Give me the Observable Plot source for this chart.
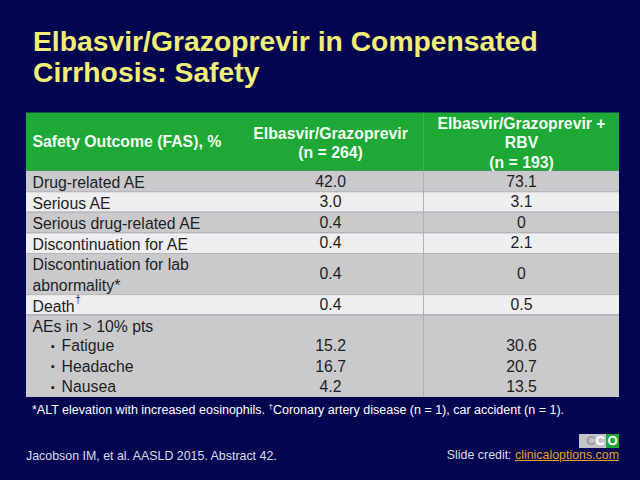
<!DOCTYPE html>
<html>
<head>
<meta charset="utf-8">
<script src="https://cdn.jsdelivr.net/npm/d3@7"></script>
<script src="https://cdn.jsdelivr.net/npm/@observablehq/plot@0.6"></script>
<style>
  html, body { margin: 0; padding: 0; }
  body { width: 640px; height: 480px; background: #020650; position: relative; overflow: hidden;
         font-family: "Liberation Sans", Arial, sans-serif; }
  #title { position: absolute; left: 33px; top: 26px; color: #f2ee78; font-weight: bold;
           font-size: 28.3px; line-height: 31px; }
  #chart { position: absolute; left: 0; top: 100px; }
  #note { position: absolute; left: 32px; top: 403px; color: #ffffff; font-size: 12.5px; white-space: nowrap; }
  #note sup { font-size: 8px; vertical-align: 5px; line-height: 0; }
  #ref { position: absolute; left: 26px; top: 449px; color: #dcdce8; font-size: 12.4px; white-space: nowrap; }
  #credit { position: absolute; right: 21px; top: 448px; color: #dcdce8; font-size: 12.4px; white-space: nowrap; }
  #credit span { color: #e0a424; text-decoration: underline; }
  #logo { position: absolute; right: 21px; top: 434px; height: 14px; display: flex; font-size: 13px;
          font-weight: bold; line-height: 14px; }
  #logo .g { background: #c4c4c8; color: #9a9aa0; width: 26px; text-align: right; padding-right: 1px; }
  #logo .g b { color: #ffffff; }
  #logo .o { background: #1fa83a; color: #ffffff; width: 13px; text-align: center; }
</style>
</head>
<body>
<div id="title">Elbasvir/Grazoprevir in Compensated<br>Cirrhosis: Safety</div>
<div id="chart"></div>
<div id="note">*ALT elevation with increased eosinophils. <sup>†</sup>Coronary artery disease (n = 1), car accident (n = 1).</div>
<div id="logo"><div class="g">C<b>C</b></div><div class="o">O</div></div>
<div id="ref">Jacobson IM, et al. AASLD 2015. Abstract 42.</div>
<div id="credit">Slide credit: <span>clinicaloptions.com</span></div>
<script>
// ---- data ----
const headers = ["Safety Outcome (FAS), %", "Elbasvir/Grazoprevir\n(n = 264)", "Elbasvir/Grazoprevir +\nRBV\n(n = 193)"];
const outcomes = ["Drug-related AE", "Serious AE", "Serious drug-related AE", "Discontinuation for AE",
                  "Discontinuation for lab\nabnormality*", "Death†", "AEs in > 10% pts"];
const egr    = ["42.0", "3.0", "0.4", "0.4", "0.4", "0.4", ""];
const egrRbv = ["73.1", "3.1", "0", "2.1", "0", "0.5", ""];
const subOutcomes = ["Fatigue", "Headache", "Nausea"];
const subEgr    = ["15.2", "16.7", "4.2"];
const subEgrRbv = ["30.6", "20.7", "13.5"];

// ---- layout ----
const HEADER_UNITS = 2.83;
const X0 = 26, X1 = 619, TW = X1 - X0;
const colEdges = [0, 0.356, 0.6695, 1];
const colMid = [colEdges[0], (colEdges[1] + colEdges[2]) / 2, (colEdges[2] + colEdges[3]) / 2];
const FS = 15.8;
const FONT = '"Liberation Sans", Arial, sans-serif';

const rows = [];
let u = HEADER_UNITS;
outcomes.forEach((label, i) => {
  const lines = label.split("\n").length;
  rows.push({label, v1: egr[i], v2: egrRbv[i], y1: u, y2: u + lines, band: i, sub: false});
  u += lines;
});
const parentBand = outcomes.length - 1;
subOutcomes.forEach((label, i) => {
  rows.push({label, v1: subEgr[i], v2: subEgrRbv[i], y1: u, y2: u + 1, band: parentBand, sub: true});
  u += 1;
});
const total = u;
rows.forEach(r => r.ym = (r.y1 + r.y2) / 2);

const bands = Array.from(d3.group(rows, r => r.band), ([band, rs]) => ({
  band, y1: d3.min(rs, r => r.y1), y2: d3.max(rs, r => r.y2)
}));

// superscript dagger handling
const ctx = document.createElement("canvas").getContext("2d");
ctx.font = `${FS}px ${FONT}`;
const mainRows = rows.filter(r => !r.sub).map(r => {
  const dag = r.label.endsWith("†");
  const base = dag ? r.label.slice(0, -1) : r.label;
  return {...r, base, dag, xd: (6.5 + ctx.measureText(base).width) / TW};
});
const daggerRows = mainRows.filter(r => r.dag);
const subRows = rows.filter(r => r.sub);

const headerData = headers.map((h, i) => ({h, i, x: colMid[i], ym: HEADER_UNITS / 2}));

const chart = Plot.plot({
  width: 640,
  height: 305,
  margin: 0,
  x: {domain: [0, 1], range: [X0, X1], axis: null},
  y: {domain: [0, total], range: [12.5, 297], axis: null},
  style: {background: "transparent", fontFamily: FONT},
  marks: [
    Plot.rect([0], {x1: 0, x2: 1, y1: 0, y2: HEADER_UNITS, fill: "#1ea836"}),
    Plot.rect(bands, {x1: 0, x2: 1, y1: "y1", y2: "y2",
      fill: d => (d.band % 2 === 0 ? "#cacacd" : "#efeff1")}),
    Plot.ruleY(bands.slice(1), {y: "y1", x1: 0, x2: 1, stroke: "#b6b6ba", strokeWidth: 1}),
    Plot.ruleX([colEdges[2]], {y1: HEADER_UNITS, y2: total, stroke: "#b0b0b4", strokeWidth: 1}),
    Plot.ruleX([colEdges[2]], {y1: 0, y2: HEADER_UNITS, stroke: "#2fb445", strokeWidth: 1}),
    // header text
    Plot.text(headerData.slice(0, 1), {x: "x", y: "ym", text: "h", fill: "#f4fff4", fontWeight: "bold",
      fontSize: FS, textAnchor: "start", dx: 6}),
    Plot.text(headerData.slice(1), {x: "x", y: "ym", text: "h", fill: "#f4fff4", fontWeight: "bold",
      fontSize: FS, lineHeight: 1.25, textAnchor: "middle"}),
    // row labels
    Plot.text(mainRows, {x: 0, y: "ym", text: "base", textAnchor: "start", dx: 6, fill: "#1e1e1e",
      fontSize: FS, lineHeight: 1.3}),
    Plot.text(daggerRows, {x: "xd", y: "ym", text: () => "†", textAnchor: "start",
      dy: -5, fill: "#1e1e1e", fontSize: 10}),
    Plot.text(subRows, {x: 0, y: "ym", text: () => "▪", textAnchor: "middle", dx: 26.5, fill: "#1e1e1e", fontSize: 11}),
    Plot.text(subRows, {x: 0, y: "ym", text: "label", textAnchor: "start", dx: 35, fill: "#1e1e1e", fontSize: FS}),
    // values
    Plot.text(rows, {x: colMid[1], y: "ym", text: "v1", fill: "#1e1e1e", fontSize: FS}),
    Plot.text(rows, {x: colMid[2], y: "ym", text: "v2", fill: "#1e1e1e", fontSize: FS})
  ]
});
document.getElementById("chart").appendChild(chart);
</script>
</body>
</html>
